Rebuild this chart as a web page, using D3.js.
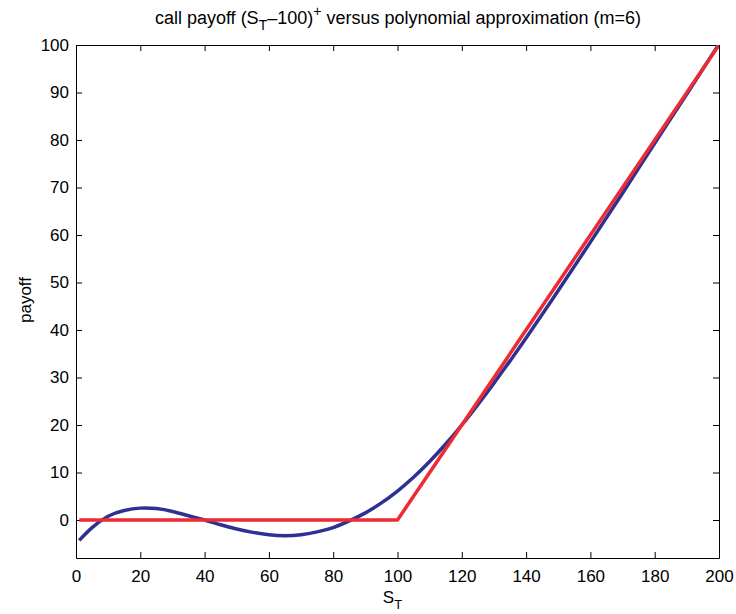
<!DOCTYPE html>
<html lang="en">
  <head>
    <meta charset="utf-8">
    <title>Call payoff vs polynomial approximation</title>
    <style>
      body { margin: 0; background: #fff; }
      svg text { font-family: "Liberation Sans", Arial, sans-serif; fill: #000; }
      .axis path, .axis line { stroke: #000; stroke-width: 1px; }
      .axis text { font-size: 17px; }
    </style>
  </head>
  <body>
    <svg id="chart"></svg>

    <script src="https://cdn.jsdelivr.net/npm/d3@7"></script>
    <script>

      // polynomial approximation (m=6)
      var polyX = [1, 5, 10, 15, 20, 25, 30, 35, 40, 45, 50, 55, 60, 65, 70, 75, 80, 85, 90, 95,
                   100, 105, 110, 115, 120, 125, 130, 135, 140, 150, 160, 170, 180, 190, 200];
      var polyY = [-4.3, -1.6, 0.8, 2.0, 2.5, 2.4, 1.8, 0.9, 0, -1.0, -1.9, -2.6, -3.1, -3.3, -3.1, -2.5, -1.6, -0.2, 1.5, 3.6,
                   6.1, 9.0, 12.3, 16.0, 20.0, 24.3, 28.8, 33.5, 38.3, 48.3, 58.5, 68.8, 79.3, 89.7, 100.2];

      // call payoff (S_T - 100)^+
      var payoffX = [1, 100, 200];
      var payoffY = [0, 0, 100];

      var xTicks = [0, 20, 40, 60, 80, 100, 120, 140, 160, 180, 200];
      var yTicks = [0, 10, 20, 30, 40, 50, 60, 70, 80, 90, 100];

      var margin = {top: 45, right: 17, bottom: 56, left: 76},
          W = 736, H = 614,
          width = W - margin.left - margin.right,
          height = H - margin.top - margin.bottom;

      var svg = d3.select("#chart")
          .attr("width", W)
          .attr("height", H);

      var x = d3.scaleLinear().domain([0, 200]).range([0, width]);
      var y = d3.scaleLinear().domain([-8, 100]).range([height, 0]);

      var g = svg.append("g")
          .attr("transform", "translate(" + margin.left + "," + margin.top + ")");

      g.append("clipPath").attr("id", "clip")
        .append("rect").attr("width", width).attr("height", height);

      // axes, ticks pointing inward like matlab
      g.append("g").attr("class", "axis")
          .attr("transform", "translate(0," + height + ")")
          .call(d3.axisBottom(x).tickValues(xTicks).tickSizeInner(-6).tickSizeOuter(0).tickPadding(12));
      g.append("g").attr("class", "axis")
          .call(d3.axisTop(x).tickValues(xTicks).tickSizeInner(-6).tickSizeOuter(0).tickFormat(""));
      g.append("g").attr("class", "axis")
          .call(d3.axisLeft(y).tickValues(yTicks).tickSizeInner(-6).tickSizeOuter(0).tickPadding(7));
      g.append("g").attr("class", "axis")
          .attr("transform", "translate(" + width + ",0)")
          .call(d3.axisRight(y).tickValues(yTicks).tickSizeInner(-6).tickSizeOuter(0).tickFormat(""));

      var lines = g.append("g").attr("clip-path", "url(#clip)");

      var poly = polyX.map(function(d, i) { return [d, polyY[i]]; });
      var pay = payoffX.map(function(d, i) { return [d, payoffY[i]]; });

      var line = d3.line()
          .x(function(d) { return x(d[0]); })
          .y(function(d) { return y(d[1]); });

      lines.append("path")
          .datum(poly)
          .attr("fill", "none")
          .attr("stroke", "#2f3192")
          .attr("stroke-width", 3.5)
          .attr("d", line.curve(d3.curveNatural));

      lines.append("path")
          .datum(pay)
          .attr("fill", "none")
          .attr("stroke", "#ec2b33")
          .attr("stroke-width", 3.5)
          .attr("d", line.curve(d3.curveLinear));

      // title
      var title = svg.append("text")
          .attr("x", 398).attr("y", 24)
          .attr("text-anchor", "middle")
          .style("font-size", "18px");
      title.append("tspan").text("call payoff (S");
      title.append("tspan").attr("dy", 6).style("font-size", "14px").text("T");
      title.append("tspan").attr("dy", -6).text("\u2013100)");
      title.append("tspan").attr("dy", -8).style("font-size", "14px").text("+");
      title.append("tspan").attr("dy", 8).text(" versus polynomial approximation (m=6)");

      // x label
      var xl = svg.append("text")
          .attr("x", margin.left + width / 2 - 5).attr("y", 603)
          .attr("text-anchor", "middle")
          .style("font-size", "17px");
      xl.append("tspan").text("S");
      xl.append("tspan").attr("dy", 6).style("font-size", "13px").text("T");

      // y label
      svg.append("text")
          .attr("transform", "translate(31,300) rotate(-90)")
          .attr("text-anchor", "middle")
          .style("font-size", "17px")
          .text("payoff");

    </script>
  </body>
</html>
